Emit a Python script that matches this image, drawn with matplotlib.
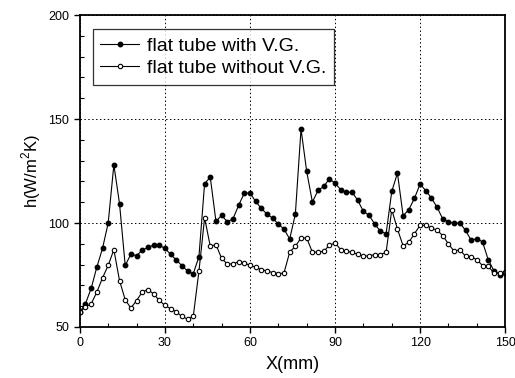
import numpy as np
import matplotlib
matplotlib.use("Agg")
import matplotlib.pyplot as plt
from matplotlib.ticker import MultipleLocator

plt.rcParams['font.family'] = ['Liberation Sans', 'DejaVu Sans']
plt.rcParams['mathtext.fontset'] = 'custom'
plt.rcParams['mathtext.rm'] = 'Liberation Sans'

# ========== data (one point every 2 mm) ==========
x_mm = np.arange(0, 151, 2)

h_with_vg = [57.2, 61.2, 68.6, 78.8, 87.8, 100.0, 128.0, 109.3, 79.6, 85.0,
             84.3, 86.9, 88.3, 89.3, 89.3, 87.8, 85.0, 82.2, 79.5, 76.9,
             75.6, 83.8, 119.0, 122.0, 100.8, 103.7, 100.6, 102.0, 108.5, 114.4,
             114.4, 110.4, 107.0, 104.3, 102.3, 99.5, 97.1, 92.3, 104.3, 145.2,
             124.8, 110.1, 115.7, 117.6, 121.2, 119.2, 116.0, 114.7, 114.9, 110.9,
             105.6, 103.7, 99.5, 96.0, 94.9, 115.2, 124.0, 103.5, 106.4, 111.9,
             118.8, 115.5, 112.0, 107.5, 101.9, 100.6, 100.0, 100.0, 96.5, 91.7,
             92.5, 90.9, 82.4, 77.1, 75.2, 76.0]

h_without_vg = [57.2, 59.6, 61.1, 66.8, 73.6, 79.6, 87.2, 72.3, 63.1, 59.1,
                62.7, 66.8, 68.0, 65.9, 62.8, 60.4, 58.8, 57.2, 55.1, 53.8,
                55.1, 76.8, 102.5, 88.8, 89.6, 83.0, 80.3, 80.3, 81.4, 80.8,
                79.6, 78.7, 77.6, 76.9, 76.2, 75.6, 76.0, 86.0, 88.8, 92.8,
                92.8, 86.0, 86.0, 86.4, 89.3, 90.4, 87.2, 86.4, 85.9, 84.9,
                84.0, 84.3, 84.8, 84.8, 85.9, 106.4, 97.1, 89.0, 90.7, 94.9,
                98.9, 98.9, 97.6, 96.5, 93.9, 89.9, 86.4, 87.2, 84.0, 83.7,
                82.4, 79.5, 79.2, 76.0, 76.0, 76.4]

x_ticks = [0, 30, 60, 90, 120, 150]
y_ticks = [50, 100, 150, 200]

# ========== plot ==========
fig = plt.figure(figsize=(5.15, 3.78), dpi=100)
ax = fig.add_axes([0.155, 0.135, 0.826, 0.825])

ax.plot(x_mm, h_with_vg, color="black", lw=0.8, marker="o", ms=3.2,
        mfc="black", mec="black", label="flat tube with V.G.")
ax.plot(x_mm, h_without_vg, color="black", lw=0.8, marker="o", ms=3.2,
        mfc="white", mec="black", mew=0.8, label="flat tube without V.G.")

ax.set_xlim(0, 150)
ax.set_ylim(50, 200)
ax.set_xticks(x_ticks)
ax.set_yticks(y_ticks)
ax.xaxis.set_minor_locator(MultipleLocator(10))
ax.yaxis.set_minor_locator(MultipleLocator(10))
ax.tick_params(which="major", direction="out", length=4, width=1, labelsize=9)
ax.tick_params(which="minor", direction="in", length=3, width=0.8)

ax.grid(True, which="major", color="black", linestyle=(0, (1.5, 2.5)), lw=0.7)

for s in ax.spines.values():
    s.set_linewidth(1.3)

ax.set_xlabel("X(mm)", fontsize=13, labelpad=5)
ax.set_ylabel("h(W/m$^2$K)", fontsize=12, labelpad=4)

leg = ax.legend(loc="upper left", bbox_to_anchor=(0.03, 0.955), fontsize=14,
                frameon=True, fancybox=False, edgecolor="black",
                handlelength=2.0, handletextpad=0.4, borderpad=0.4,
                labelspacing=0.25, borderaxespad=0)
leg.get_frame().set_linewidth(0.9)

fig.savefig("out.png", dpi=100)
